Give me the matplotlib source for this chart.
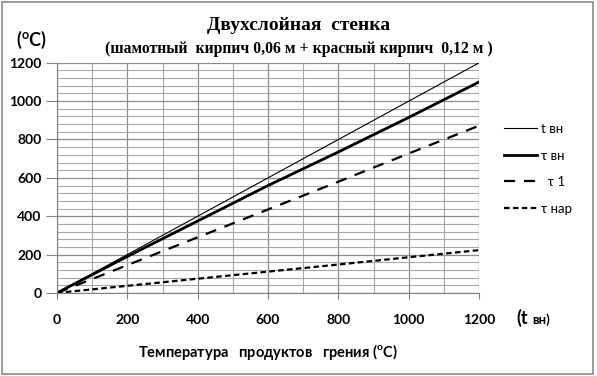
import matplotlib
matplotlib.use("Agg")
import matplotlib.pyplot as plt
from matplotlib.ticker import MultipleLocator

# температура продуктов горения, точки ряда
t_x = [0, 200, 400, 600, 800, 1000, 1200]
t_vn = [0, 200, 400, 600, 800, 1000, 1200]
tau_vn = [0, 190, 375, 560, 735, 915, 1100]
tau_1 = [0, 145, 290, 435, 580, 727, 872]
tau_nar = [0, 37, 74, 111, 148, 186, 223]
labels = ["t вн", "τ вн", "  τ 1", "τ нар"]

plt.rcParams['font.family'] = ['Lato', 'DejaVu Sans']
plt.rcParams['mathtext.fontset'] = 'custom'
plt.rcParams['mathtext.rm'] = 'Lato:bold'

fig = plt.figure(figsize=(5.97, 3.76), dpi=100)
ax = fig.add_axes([0.0955, 0.221, 0.707, 0.612])

ax.plot(t_x, t_vn, color='black', lw=0.8, label=labels[0])
ax.plot(t_x, tau_vn, color='black', lw=2.0, label=labels[1])
ax.plot(t_x, tau_1, color='black', lw=1.6, ls=(0, (5, 4)), label=labels[2])
ax.plot(t_x, tau_nar, color='black', lw=1.6, ls=(0, (2.5, 1.5)), label=labels[3])

ax.set_xlim(0, 1200)
ax.set_ylim(0, 1200)
ax.xaxis.set_major_locator(MultipleLocator(200))
ax.xaxis.set_minor_locator(MultipleLocator(100))
ax.yaxis.set_major_locator(MultipleLocator(200))
ax.yaxis.set_minor_locator(MultipleLocator(40))
ax.grid(which='major', color='#8c8c8c', lw=0.9)
ax.grid(which='minor', color='#a8a8a8', lw=0.8)
ax.set_axisbelow(True)
for s in ['top', 'right']:
    ax.spines[s].set_visible(False)
for s in ['left', 'bottom']:
    ax.spines[s].set_color('#808080')
ax.tick_params(which='major', color='#808080', labelsize=10)
ax.tick_params(axis='y', which='major', length=8, pad=3)
ax.tick_params(axis='x', which='major', length=4, pad=11)
ax.tick_params(which='minor', length=0)
for lab in ax.get_xticklabels() + ax.get_yticklabels():
    lab.set_fontweight('bold')

leg = ax.legend(loc='upper left', bbox_to_anchor=(1.03, 0.79), frameon=False,
                fontsize=9.5, handlelength=2.5, labelspacing=1.1, handletextpad=0.3)

fig.text(0.5, 0.932, "Двухслойная  стенка", ha='center', va='center',
         family='Liberation Serif', fontweight='bold', fontsize=14)
fig.text(0.5, 0.87, "(шамотный  кирпич 0,06 м + красный кирпич  0,12 м )", ha='center',
         va='center', family='Liberation Serif', fontweight='bold', fontsize=11.3)
fig.text(0.027, 0.893, r"($^{\mathrm{o}}$C)", ha='left', va='center', fontweight='bold', fontsize=13)
fig.text(0.885, 0.154, "(t", ha='right', va='center', fontweight='bold', fontsize=13)
fig.text(0.892, 0.151, "вн)", ha='left', va='center', fontweight='bold', fontsize=9.5)
fig.text(0.449, 0.064, r"Температура   продуктов   грения ($^{\mathrm{o}}$C)", ha='center',
         va='center', fontweight='bold', fontsize=10.5)

fig.patches.append(plt.Rectangle((0.003, 0.005), 0.99, 0.99, transform=fig.transFigure,
                                 fill=False, edgecolor='#8c8c8c', lw=1.2))

fig.savefig("out.png", dpi=100)
